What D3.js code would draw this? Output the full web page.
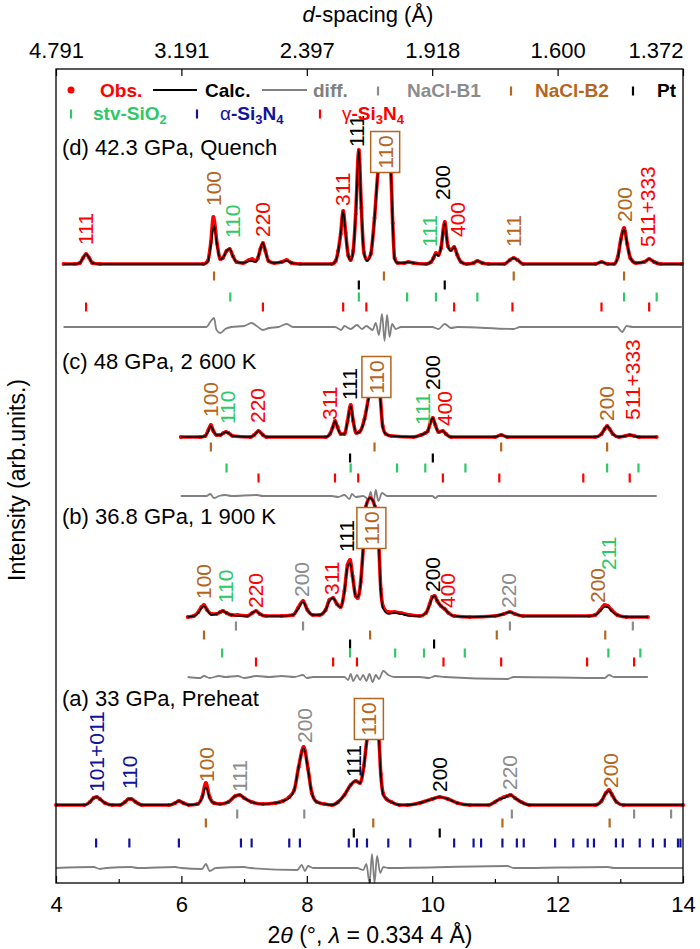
<!DOCTYPE html>
<html>
<head>
<meta charset="utf-8">
<script src="https://cdn.jsdelivr.net/npm/d3@7"></script>
<style>
body { margin: 0; background: #fff; }
text { font-family: "Liberation Sans", Arial, sans-serif; }
</style>
</head>
<body>
<script>
// axis ticks
var twoThetaTicks = [4, 6, 8, 10, 12, 14];
var twoThetaMinor = [5, 7, 9, 11, 13];
var dSpacingLabels = ['4.791', '3.191', '2.397', '1.918', '1.600', '1.372'];

// (d) 42.3 GPa, Quench  [2theta, intensity]
var calcD = [[4.12,0],[4.3,0],[4.38,1],[4.43,6],[4.48,10],[4.53,6],[4.58,1],[4.7,0],
	[6.35,0],[6.42,2],[6.47,18],[6.52,39],[6.57,18],[6.62,5],[6.66,6],[6.72,13],[6.77,15],[6.82,8],[6.88,2],[6.98,1],[7.1,3],[7.18,2],[7.22,6],[7.26,15],[7.3,21],[7.34,13],[7.39,3],[7.48,1],[7.6,2],[7.68,3],[7.76,1],[7.9,0],
	[8.4,0],[8.46,3],[8.5,12],[8.54,30],[8.58,53],[8.62,30],[8.66,9],[8.7,4],[8.74,12],[8.78,50],[8.83,114],[8.87,55],[8.91,12],[8.96,3],[9.02,10],[9.08,45],[9.135,92],[9.24,125],[9.34,92],[9.37,40],[9.4,5],[9.45,1],[9.55,1],[9.62,2],[9.7,1],[9.9,0],
	[9.98,2],[10.02,6],[10.06,10],[10.1,8],[10.14,16],[10.2,41],[10.25,18],[10.3,13],[10.35,17],[10.4,9],[10.46,2],[10.55,0],[10.66,1],[10.72,3],[10.8,1],[10.9,0],
	[11.15,0],[11.24,4],[11.3,6],[11.36,4],[11.45,0],[12.6,0],[12.7,2],[12.8,0],[12.9,0],[12.96,6],[13.01,24],[13.06,35],[13.11,20],[13.16,6],[13.25,1],[13.38,2],[13.46,5],[13.54,2],[13.65,0],[13.98,0]];
var obsD = [[4.12,0],[4.3,0],[4.38,1],[4.43,6],[4.48,10],[4.53,6],[4.58,1],[4.7,0],
	[6.35,0],[6.42,3],[6.47,22],[6.51,47],[6.57,20],[6.62,5],[6.66,6],[6.72,13],[6.77,15],[6.82,8],[6.88,2],[6.98,1],[7.08,4],[7.13,5],[7.18,3],[7.22,6],[7.26,15],[7.3,21],[7.34,13],[7.39,3],[7.48,1],[7.6,2],[7.68,4],[7.76,1],[7.9,0],
	[8.4,0],[8.46,3],[8.5,13],[8.54,30],[8.58,53],[8.62,31],[8.66,9],[8.7,4],[8.74,13],[8.78,50],[8.83,114],[8.87,56],[8.91,12],[8.96,4],[9.02,10],[9.08,46],[9.135,92],[9.24,125],[9.34,92],[9.37,41],[9.4,6],[9.45,1],[9.55,1],[9.62,2],[9.7,1],[9.9,0],
	[9.98,2],[10.02,6],[10.06,11],[10.1,9],[10.14,16],[10.2,42],[10.25,18],[10.3,14],[10.35,17],[10.4,9],[10.46,2],[10.55,0],[10.66,1],[10.72,3],[10.8,1],[10.9,0],
	[11.15,0],[11.24,4],[11.3,6],[11.36,4],[11.45,0],[12.6,0],[12.7,2],[12.8,0],[12.9,0],[12.96,7],[13.01,25],[13.06,36],[13.11,20],[13.16,6],[13.25,1],[13.38,2],[13.46,5],[13.54,2],[13.65,0],[13.98,0]];
var diffD = [[4.12,0],[6.4,0],[6.47,6],[6.52,9],[6.56,-3],[6.62,-6],[6.7,-2],[6.8,0],[7.0,1],[7.12,4],[7.2,1],[7.3,-3],[7.4,-1],[7.55,0],[7.68,3],[7.78,0],
	[8.45,0],[8.55,-3],[8.6,1],[8.7,-2],[8.8,2],[8.88,-2],[8.95,1],[9.05,-3],[9.1,4],[9.15,-8],[9.2,13],[9.24,-14],[9.28,12],[9.32,-10],[9.36,3],[9.42,-2],[9.5,0],
	[10.0,0],[10.1,-2],[10.2,3],[10.3,-1],[10.4,0],[11.3,-2],[11.4,0],[12.95,0],[13.03,-5],[13.1,1],[13.2,0],[13.98,0]];

// (c) 48 GPa, 2 600 K
var calcC = [[5.99,0],[6.3,0],[6.38,1],[6.43,6],[6.47,11],[6.51,6],[6.56,2],[6.62,2],[6.67,4],[6.71,5],[6.75,4],[6.82,1],[7.1,0],[7.16,2],[7.23,6],[7.3,2],[7.36,0],
	[8.3,0],[8.37,3],[8.41,9],[8.45,16],[8.49,9],[8.54,3],[8.6,3],[8.65,15],[8.7,31],[8.74,16],[8.79,4],[8.84,5],[8.92,17],[8.99,40],[9.08,65],[9.17,40],[9.21,10],[9.26,3],[9.35,1],[9.7,0],
	[9.82,2],[9.89,4],[9.93,6],[9.97,14],[10.01,19],[10.05,12],[10.1,5],[10.17,6],[10.22,3],[10.3,0],
	[11.0,0],[11.1,2],[11.2,0],[12.6,0],[12.7,3],[12.75,8],[12.79,11],[12.83,8],[12.88,3],[12.98,0],[13.08,1],[13.15,2],[13.22,1],[13.3,0],[13.58,0]];
var obsC = [[5.99,0],[6.3,0],[6.38,1],[6.43,7],[6.47,12],[6.51,6],[6.56,2],[6.62,2],[6.67,4],[6.71,5],[6.75,4],[6.82,1],[7.1,0],[7.16,2],[7.23,6],[7.3,2],[7.36,0],
	[8.3,0],[8.37,3],[8.41,9],[8.45,16],[8.49,10],[8.54,3],[8.6,3],[8.65,16],[8.7,32],[8.74,16],[8.79,4],[8.84,5],[8.92,18],[8.99,41],[9.08,65],[9.17,41],[9.21,11],[9.26,3],[9.35,1],[9.7,0],
	[9.82,2],[9.89,4],[9.93,6],[9.97,14],[10.01,19],[10.05,12],[10.1,5],[10.17,6],[10.22,3],[10.3,0],
	[11.0,0],[11.1,2],[11.2,0],[12.6,0],[12.7,3],[12.75,8],[12.79,11],[12.83,8],[12.88,3],[12.98,0],[13.08,1],[13.15,2],[13.22,1],[13.3,0],[13.58,0]];
var diffC = [[5.99,0],[6.4,0],[6.46,2],[6.52,-2],[6.6,0],[6.7,1],[6.8,0],[7.2,1],[7.3,0],[8.4,0],[8.5,-1],[8.6,1],[8.68,-3],[8.72,2],[8.78,-1],[8.9,0],
	[8.98,-3],[9.02,4],[9.06,-8],[9.1,6],[9.14,-5],[9.2,3],[9.28,0],[10.0,0],[10.05,-2],[10.1,0],[13.58,0]];

// (b) 36.8 GPa, 1 900 K
var calcB = [[6.1,0],[6.2,1],[6.27,4],[6.32,9],[6.36,11],[6.41,7],[6.48,2],[6.56,3],[6.62,5],[6.66,6],[6.72,4],[6.8,2],[6.9,1],[7.05,1],[7.13,4],[7.19,6],[7.25,3],[7.35,1],[7.6,1],
	[7.78,2],[7.86,8],[7.94,15],[8.01,7],[8.1,2],[8.2,2],[8.3,7],[8.36,16],[8.42,19],[8.48,13],[8.54,10],[8.6,25],[8.65,50],[8.69,54],[8.73,40],[8.78,21],[8.81,20],[8.86,35],
	[8.9,69],[8.94,110],[9.01,119],[9.09,110],[9.15,69],[9.18,25],[9.22,8],[9.3,3],[9.4,4],[9.5,3],[9.65,1],[9.8,1],
	[9.9,4],[9.96,12],[10.0,19],[10.04,21],[10.08,16],[10.14,11],[10.2,8],[10.26,4],[10.35,1],[10.6,0],[11.0,1],[11.14,3],[11.24,5],[11.32,3],[11.45,1],
	[12.5,1],[12.6,2],[12.68,6],[12.75,10],[12.8,10],[12.86,6],[12.95,2],[13.1,0],[13.44,0]];
var obsB = [[6.1,0],[6.2,1],[6.27,5],[6.32,10],[6.36,12],[6.41,7],[6.48,3],[6.56,3],[6.62,5],[6.66,6],[6.72,4],[6.8,2],[6.9,2],[7.05,1],[7.13,4],[7.19,6],[7.25,3],[7.35,1],[7.6,1],
	[7.78,2],[7.86,9],[7.94,16],[8.01,7],[8.1,2],[8.2,2],[8.3,7],[8.36,17],[8.42,19],[8.48,13],[8.54,10],[8.6,26],[8.65,52],[8.69,57],[8.73,41],[8.78,21],[8.81,19],[8.86,35],
	[8.9,69],[8.94,110],[9.01,119],[9.09,110],[9.15,70],[9.18,28],[9.22,10],[9.3,5],[9.4,5],[9.5,4],[9.65,2],[9.8,1],
	[9.9,4],[9.96,13],[10.0,20],[10.04,21],[10.08,16],[10.14,11],[10.2,8],[10.26,4],[10.35,1],[10.6,0],[11.0,1],[11.14,3],[11.24,5],[11.32,3],[11.45,1],
	[12.5,1],[12.6,2],[12.68,7],[12.75,12],[12.8,11],[12.86,7],[12.95,2],[13.1,0],[13.44,0]];
var diffB = [[6.1,0],[6.3,-1],[6.36,1],[6.45,-1],[6.6,1],[6.7,0],[6.9,1],[7.0,-1],[7.2,1],[7.4,0],[7.6,1],[7.8,0],[7.94,2],[8.0,-1],[8.1,0],
	[8.6,0],[8.66,-3],[8.7,3],[8.74,-4],[8.8,2],[8.85,-3],[8.9,2],[8.95,-4],[9.0,3],[9.05,-5],[9.1,2],[9.15,-2],[9.22,6],[9.3,2],[9.4,0],
	[9.8,0],[9.95,-1],[10.05,1],[10.2,0],[11.2,-2],[11.3,0],[12.75,-1],[12.82,2],[12.9,0],[13.44,0]];

// (a) 33 GPa, Preheat
var calcA = [[4.0,0],[4.45,0],[4.54,3],[4.6,7],[4.65,8],[4.7,6],[4.78,2],[4.9,0],[5.02,0],[5.1,3],[5.16,6],[5.2,6],[5.27,3],[5.37,0],[5.8,0],[5.9,2],[5.96,4],[6.03,2],[6.12,0],
	[6.26,1],[6.33,7],[6.39,18],[6.45,7],[6.52,2],[6.62,1],[6.75,3],[6.86,9],[6.93,10],[7.0,7],[7.12,3],[7.3,1],[7.5,2],[7.62,4],[7.72,7],[7.8,15],[7.87,38],[7.95,57],[8.02,35],[8.08,12],[8.16,3],[8.28,1],[8.4,0],
	[8.5,3],[8.6,10],[8.7,20],[8.78,24],[8.85,22],[8.91,38],[8.96,65],[9.06,95],[9.15,65],[9.18,30],[9.22,10],[9.27,6],[9.35,3],[9.48,0],[9.6,0],
	[9.8,2],[10.0,6],[10.12,8],[10.25,6],[10.4,2],[10.6,0],[10.9,0],[11.0,3],[11.08,6],[11.15,7],[11.2,9],[11.25,10],[11.32,7],[11.42,3],[11.55,0],
	[12.6,0],[12.7,4],[12.77,12],[12.82,14],[12.87,10],[12.94,3],[13.05,0],[14.0,0]];
var obsA = [[4.0,0],[4.45,0],[4.54,3],[4.6,7],[4.65,8],[4.7,6],[4.78,2],[4.9,0],[5.02,0],[5.1,3],[5.16,6],[5.2,6],[5.27,3],[5.37,0],[5.8,0],[5.9,2],[5.96,4],[6.03,2],[6.12,0],
	[6.26,1],[6.33,8],[6.39,22],[6.45,8],[6.52,2],[6.62,1],[6.75,3],[6.86,9],[6.93,10],[7.0,7],[7.12,3],[7.3,1],[7.5,2],[7.62,4],[7.72,8],[7.8,15],[7.87,38],[7.95,58],[8.02,36],[8.08,12],[8.16,3],[8.28,1],[8.4,0],
	[8.5,3],[8.6,10],[8.7,20],[8.78,24],[8.85,22],[8.91,39],[8.96,66],[9.06,95],[9.15,66],[9.18,31],[9.22,11],[9.27,6],[9.35,3],[9.48,0],[9.6,0],
	[9.8,2],[10.0,6],[10.12,8],[10.25,6],[10.4,2],[10.6,0],[10.9,0],[11.0,3],[11.08,6],[11.15,8],[11.2,9],[11.25,10],[11.32,7],[11.42,3],[11.55,0],
	[12.6,0],[12.7,4],[12.77,12],[12.82,15],[12.87,10],[12.94,3],[13.05,0],[14.0,0]];
var diffA = [[4,0],[4.6,1],[4.7,-1],[4.8,0],[5.2,1],[5.3,0],[5.9,1],[6.0,0],[6.33,-1],[6.39,4],[6.45,-3],[6.55,0],[7.0,1],[7.1,0],[7.85,-2],[7.92,3],[7.97,-3],[8.02,2],[8.1,0],
	[8.8,0],[8.9,-2],[8.95,4],[9.0,-15],[9.04,14],[9.08,-15],[9.12,12],[9.17,-5],[9.22,1],[9.3,0],[11.2,2],[11.3,0],[12.8,1],[12.9,0],[14,0]];

// reflection positions (2theta) per phase
var ticksD = {
	B2: [6.52, 9.23, 11.30, 13.06],
	Pt: [8.83, 10.20],
	stv: [6.78, 8.83, 9.60, 10.06, 10.72, 13.06, 13.58],
	g: [4.48, 7.30, 8.58, 8.95, 10.35, 11.28, 12.70, 13.46]
};
var ticksC = {
	B2: [6.47, 9.08, 11.10, 12.79],
	Pt: [8.69, 10.01],
	stv: [6.72, 8.70, 9.44, 9.89, 10.53, 12.79, 13.29],
	g: [7.23, 8.45, 8.82, 10.17, 11.07, 12.41, 13.15]
};
var ticksB = {
	B1: [6.87, 7.94, 11.24, 13.20],
	B2: [6.36, 9.01, 11.03, 12.76],
	Pt: [8.69, 10.03],
	stv: [6.65, 8.69, 9.41, 9.87, 10.52, 12.81, 13.32],
	g: [7.19, 8.42, 8.80, 10.18, 11.10, 12.47, 13.22]
};
var ticksA = {
	B1: [6.89, 7.96, 11.27, 13.22, 13.81],
	B2: [6.39, 9.06, 11.12, 12.83],
	Pt: [8.75, 10.12],
	a: [4.64, 5.17, 5.96, 6.95, 7.12, 7.72, 7.89, 8.67, 8.80, 8.96, 9.30, 9.65, 10.35, 10.66, 10.78, 11.12, 11.35, 11.46,
		11.96, 12.25, 12.48, 12.58, 12.93, 13.04, 13.31, 13.52, 13.71, 13.92, 13.96]
};

// hkl labels: [2theta, text, phase, intensity where label starts]
var labelsD = [[4.48,'111','g',19],[6.52,'100','B2',58],[6.81,'110','stv',26],[7.30,'220','g',27],[8.57,'311','g',58],[8.80,'111','Pt',117],
	[10.17,'200','Pt',64],[9.96,'111','stv',17],[10.40,'400','g',27],[11.30,'111','B2',17],[13.07,'200','B2',42],[13.44,'511+333','g',17]];
var labelsC = [[6.47,'100','B2',20],[6.73,'110','stv',13],[7.22,'220','g',14],[8.37,'311','g',17],[8.69,'111','Pt',37],[10.01,'200','Pt',47],
	[9.84,'111','stv',12],[10.20,'400','g',11],[12.79,'200','B2',16],[13.19,'511+333','g',17]];
var labelsB = [[6.36,'100','B2',18],[6.70,'110','stv',14],[7.19,'220','g',9],[7.92,'200','B1',20],[8.40,'311','g',22],[8.64,'111','Pt',65],
	[10.01,'200','Pt',25],[10.25,'400','g',9],[11.22,'220','B1',9],[12.64,'200','B2',14],[12.82,'211','stv',47]];
var labelsA = [[4.65,'101+011','a',13],[5.18,'110','a',16],[6.41,'100','B2',23],[6.93,'111','B1',13],[7.97,'200','B1',62],[8.74,'111','Pt',28],
	[10.12,'200','Pt',13],[11.24,'220','B1',15],[12.84,'200','B2',17]];

// boxed NaCl-B2 110: [2theta, intensity]
var boxD = [9.25, 112];
var boxC = [9.11, 60];
var boxB = [9.03, 89];
var boxA = [8.99, 86];

var colors = {
	g: '#ff0000',
	stv: '#2ec866',
	a: '#12129c',
	B1: '#8c8c8c',
	B2: '#b5651d',
	Pt: '#000000'
};

var width = 700, height = 949;
var frame = {left: 56, right: 683, top: 69, bottom: 883};

var x = d3.scaleLinear().domain([4, 14]).range([frame.left, frame.right]);

var svg = d3.select('body').append('svg')
	.attr('width', width)
	.attr('height', height);

// panel layout: baseline, row offsets below baseline
var panels = [
	{calc: calcD, obs: obsD, diff: diffD, ticks: ticksD, labels: labelsD, box: boxD, base: 264, diffOff: 63,
		rows: {B2: 12, Pt: 21, stv: 33, g: 43}, title: '(d) 42.3 GPa, Quench', titleY: 155},
	{calc: calcC, obs: obsC, diff: diffC, ticks: ticksC, labels: labelsC, box: boxC, base: 437, diffOff: 59,
		rows: {B2: 10, Pt: 21, stv: 31, g: 41}, title: '(c) 48 GPa, 2 600 K', titleY: 369},
	{calc: calcB, obs: obsB, diff: diffB, ticks: ticksB, labels: labelsB, box: boxB, base: 617, diffOff: 60,
		rows: {B1: 9, B2: 18, Pt: 27, stv: 36, g: 45}, title: '(b) 36.8 GPa, 1 900 K', titleY: 524},
	{calc: calcA, obs: obsA, diff: diffA, ticks: ticksA, labels: labelsA, box: boxA, base: 805, diffOff: 63,
		rows: {B1: 9, B2: 18, Pt: 28, a: 38}, title: '(a) 33 GPa, Preheat', titleY: 706}
];

panels.forEach(function(p) {
	var y = d3.scaleLinear().domain([0, 100]).range([p.base, p.base - 100]);
	var yd = d3.scaleLinear().domain([0, 100]).range([p.base + p.diffOff, p.base + p.diffOff - 100]);
	var g = svg.append('g');

	var line = d3.line()
		.x(function(d) { return x(d[0]); })
		.y(function(d) { return y(d[1]); })
		.curve(d3.curveMonotoneX);

	g.append('text')
		.attr('x', 62)
		.attr('y', p.titleY)
		.attr('font-size', 22)
		.text(p.title);

	// diff curve
	g.append('path')
		.attr('d', d3.line()
			.x(function(d) { return x(d[0]); })
			.y(function(d) { return yd(d[1]); })
			.curve(d3.curveMonotoneX)(p.diff))
		.attr('fill', 'none')
		.attr('stroke', '#808080')
		.attr('stroke-width', 1.8);

	// reflection tick rows
	Object.keys(p.rows).forEach(function(k) {
		var yr = p.base + p.rows[k];
		g.selectAll('.t' + k)
			.data(p.ticks[k])
			.enter()
			.append('line')
			.attr('x1', function(d) { return x(d); })
			.attr('x2', function(d) { return x(d); })
			.attr('y1', yr - 4.5)
			.attr('y2', yr + 4.5)
			.attr('stroke', colors[k])
			.attr('stroke-width', 2.2);
	});

	// observed
	g.append('path')
		.attr('d', line(p.obs))
		.attr('fill', 'none')
		.attr('stroke', '#ff0000')
		.attr('stroke-width', 3.6);
	g.selectAll('.obs')
		.data(p.obs)
		.enter()
		.append('circle')
		.attr('cx', function(d) { return x(d[0]); })
		.attr('cy', function(d) { return y(d[1]); })
		.attr('r', 2)
		.attr('fill', '#ff0000');

	// calculated
	g.append('path')
		.attr('d', line(p.calc))
		.attr('fill', 'none')
		.attr('stroke', '#000')
		.attr('stroke-width', 1.6);

	// box label
	var bx = x(p.box[0]), by = y(p.box[1]);
	g.append('rect')
		.attr('x', bx - 14.5)
		.attr('y', by - 20.5)
		.attr('width', 29)
		.attr('height', 41)
		.attr('fill', '#fff')
		.attr('stroke', colors.B2)
		.attr('stroke-width', 1.5);
	g.append('text')
		.attr('transform', 'translate(' + bx + ',' + by + ') rotate(-90)')
		.attr('text-anchor', 'middle')
		.attr('dy', '0.35em')
		.attr('font-size', 21)
		.attr('fill', colors.B2)
		.text('110');

	// hkl labels
	g.selectAll('.hkl')
		.data(p.labels)
		.enter()
		.append('text')
		.attr('transform', function(d) { return 'translate(' + x(d[0]) + ',' + y(d[3]) + ') rotate(-90)'; })
		.attr('dy', '0.35em')
		.attr('font-size', 21)
		.attr('fill', function(d) { return colors[d[2]]; })
		.text(function(d) { return d[1]; });
});

// frame and axes
svg.append('rect')
	.attr('x', frame.left)
	.attr('y', frame.top)
	.attr('width', frame.right - frame.left)
	.attr('height', frame.bottom - frame.top)
	.attr('fill', 'none')
	.attr('stroke', '#000')
	.attr('stroke-width', 1.3);

svg.append('g')
	.attr('transform', 'translate(0,' + frame.bottom + ')')
	.call(d3.axisBottom(x).tickValues(twoThetaTicks).tickSize(-7).tickPadding(13).tickFormat(d3.format('d')));
svg.append('g')
	.attr('transform', 'translate(0,' + frame.bottom + ')')
	.call(d3.axisBottom(x).tickValues(twoThetaMinor).tickSize(-4).tickFormat(''));
var topAxis = svg.append('g')
	.attr('transform', 'translate(0,' + frame.top + ')')
	.call(d3.axisTop(x).tickValues(twoThetaTicks).tickSize(-7).tickPadding(11)
		.tickFormat(function(d, i) { return dSpacingLabels[i]; }));
// last d-spacing label sits flush with the frame edge
topAxis.selectAll('.tick text')
	.filter(function(d) { return d === 14; })
	.attr('text-anchor', 'end');

svg.selectAll('.domain').remove();
svg.selectAll('.tick line').attr('stroke', '#000').attr('stroke-width', 1.2);
svg.selectAll('.tick text')
	.attr('font-size', 22)
	.attr('font-family', '"Liberation Sans", Arial, sans-serif')
	.attr('fill', '#000');

// axis titles
var xt = svg.append('text')
	.attr('x', 370)
	.attr('y', 943)
	.attr('text-anchor', 'middle')
	.attr('font-size', 23);
xt.append('tspan').text('2');
xt.append('tspan').attr('font-style', 'italic').text('θ');
xt.append('tspan').text(' (°, ');
xt.append('tspan').attr('font-style', 'italic').text('λ');
xt.append('tspan').text(' = 0.334 4 Å)');

var tt = svg.append('text')
	.attr('x', 368)
	.attr('y', 22)
	.attr('text-anchor', 'middle')
	.attr('font-size', 22);
tt.append('tspan').attr('font-style', 'italic').text('d');
tt.append('tspan').text('-spacing (Å)');

svg.append('text')
	.attr('transform', 'translate(25,480) rotate(-90)')
	.attr('text-anchor', 'middle')
	.attr('font-size', 23)
	.text('Intensity (arb.units.)');

// legend
var leg = svg.append('g').attr('font-size', 19).attr('font-weight', 'bold');
function legText(xp, yp, color, label) {
	return leg.append('text').attr('x', xp).attr('y', yp).attr('fill', color).text(label);
}
function legTick(xp, yc, color) {
	leg.append('line')
		.attr('x1', xp).attr('x2', xp)
		.attr('y1', yc - 4.5).attr('y2', yc + 4.5)
		.attr('stroke', color)
		.attr('stroke-width', 2.2);
}
function legFormula(xp, yp, color, prefix, greek) {
	var t = leg.append('text').attr('x', xp).attr('y', yp).attr('fill', color);
	if (greek) t.append('tspan').attr('font-weight', 'normal').text(greek);
	t.append('tspan').text(prefix);
	return t;
}
function sub(t, s) {
	t.append('tspan').attr('font-size', 13).attr('dy', 4).text(s);
	return t;
}
function unsub(t, s) {
	t.append('tspan').attr('dy', -4).text(s);
	return t;
}

leg.append('circle').attr('cx', 71).attr('cy', 90).attr('r', 3.5).attr('fill', '#ff0000');
legText(100, 97, '#ff0000', 'Obs.');
leg.append('line').attr('x1', 153).attr('x2', 197).attr('y1', 90).attr('y2', 90).attr('stroke', '#000').attr('stroke-width', 2);
legText(205, 97, '#000', 'Calc.');
leg.append('line').attr('x1', 262).attr('x2', 307).attr('y1', 90).attr('y2', 90).attr('stroke', '#808080').attr('stroke-width', 2);
legText(313, 97, '#808080', 'diff.');
legTick(378, 91, colors.B1);
legText(407, 97, colors.B1, 'NaCl-B1');
legTick(511, 91, colors.B2);
legText(535, 97, colors.B2, 'NaCl-B2');
legTick(633, 91, colors.Pt);
legText(657, 97, colors.Pt, 'Pt');

legTick(71, 114, colors.stv);
sub(legFormula(93, 120, colors.stv, 'stv-SiO'), '2');
legTick(197, 114, colors.a);
sub(unsub(sub(legFormula(220, 120, colors.a, '-Si', 'α'), '3'), 'N'), '4');
legTick(320, 114, colors.g);
sub(unsub(sub(legFormula(342, 120, colors.g, '-Si', 'γ'), '3'), 'N'), '4');
</script>
</body>
</html>
